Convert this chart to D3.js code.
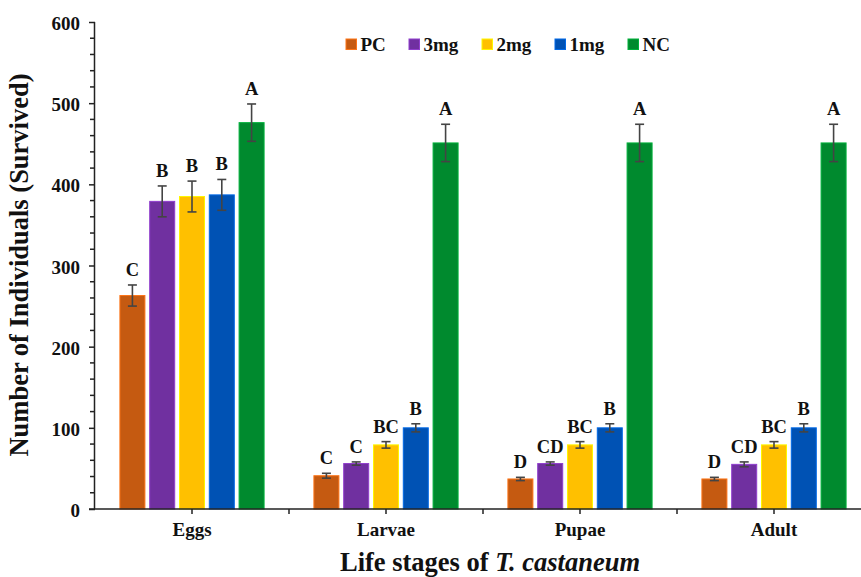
<!DOCTYPE html>
<html>
<head>
<meta charset="utf-8">
<script src="https://cdn.jsdelivr.net/npm/d3@7"></script>
<style>
  html, body { margin: 0; padding: 0; background: #fff; }
  svg { display: block; }
  text { font-family: "Liberation Serif", "Times New Roman", serif; font-weight: bold; fill: #111; }
</style>
</head>
<body>
<svg id="chart" width="861" height="577"></svg>
<script>
// ---- Data ----
const stages = ["Eggs", "Larvae", "Pupae", "Adult"];
const series = ["PC", "3mg", "2mg", "1mg", "NC"];
const colors = ["#C55A11", "#7030A0", "#FFC000", "#0052B4", "#008A2E"];
const valuesPC   = [263, 41, 37, 37];
const values3mg  = [379, 56, 56, 55];
const values2mg  = [385, 79, 79, 79];
const values1mg  = [387, 100, 100, 100];
const valuesNC   = [476, 451, 451, 451];
const errPC  = [13, 3, 2, 2];
const err3mg = [19, 2, 2, 3];
const err2mg = [19, 4, 4, 4];
const err1mg = [19, 5, 5, 5];
const errNC  = [23, 23, 23, 23];
const lettersPC  = ["C", "C", "D", "D"];
const letters3mg = ["B", "C", "CD", "CD"];
const letters2mg = ["B", "BC", "BC", "BC"];
const letters1mg = ["B", "B", "B", "B"];
const lettersNC  = ["A", "A", "A", "A"];
const yTicks = [0, 100, 200, 300, 400, 500, 600];

const allValues = [valuesPC, values3mg, values2mg, values1mg, valuesNC];
const allErr = [errPC, err3mg, err2mg, err1mg, errNC];
const allLetters = [lettersPC, letters3mg, letters2mg, letters1mg, lettersNC];

const rows = [];
stages.forEach((st, i) => {
  series.forEach((s, j) => {
    rows.push({ stage: st, series: s, value: allValues[j][i], err: allErr[j][i], letter: allLetters[j][i], color: colors[j] });
  });
});

// ---- Layout ----
const svg = d3.select("#chart");
const mLeft = 95, mRight = 871, mTop = 22, mBottom = 509;

const x0 = d3.scaleBand().domain(stages).range([mLeft, mRight]).padding(0);
const x1 = d3.scaleBand().domain(series).range([0, x0.bandwidth()]).paddingInner(0.161).paddingOuter(0.836);
const y = d3.scaleLinear().domain([0, 600]).range([mBottom, mTop]);

// Bars
svg.append("g").selectAll("rect").data(rows).join("rect")
  .attr("x", d => x0(d.stage) + x1(d.series))
  .attr("y", d => y(d.value))
  .attr("width", x1.bandwidth())
  .attr("height", d => y(0) - y(d.value))
  .attr("fill", d => d.color)
  .attr("stroke", d => d3.color(d.color).brighter(0.7))
  .attr("stroke-width", 1);

// Error bars
const eb = svg.append("g").attr("stroke", "#444").attr("stroke-width", 1.6).attr("fill", "none");
rows.forEach(d => {
  const cx = x0(d.stage) + x1(d.series) + x1.bandwidth() / 2;
  const y1 = y(d.value + d.err), y2 = y(d.value - d.err);
  eb.append("line").attr("x1", cx).attr("x2", cx).attr("y1", y1).attr("y2", y2);
  eb.append("line").attr("x1", cx - 4.5).attr("x2", cx + 4.5).attr("y1", y1).attr("y2", y1);
  eb.append("line").attr("x1", cx - 4.5).attr("x2", cx + 4.5).attr("y1", y2).attr("y2", y2);
});

// Letters
svg.append("g").selectAll("text").data(rows).join("text")
  .attr("x", d => x0(d.stage) + x1(d.series) + x1.bandwidth() / 2)
  .attr("y", d => y(d.value + d.err) - 9)
  .attr("text-anchor", "middle")
  .attr("font-size", 18.5)
  .text(d => d.letter);

// Y axis
const yAxis = d3.axisLeft(y).tickValues(yTicks).tickSize(6).tickPadding(9).tickFormat(d3.format("d"));
const gy = svg.append("g").attr("transform", `translate(${mLeft},0)`).call(yAxis);
gy.select(".domain").attr("stroke", "#222").attr("stroke-width", 1.5).attr("d", `M-0.5,${mTop}V${mBottom}`);
gy.selectAll(".tick line").attr("stroke", "#222").attr("stroke-width", 1.5);
gy.selectAll(".tick text").attr("font-size", 19).attr("font-family", "Liberation Serif, Times New Roman, serif")
  .attr("font-weight", "bold").attr("fill", "#111").attr("dy", "0.4em");
// minor ticks
const minor = d3.range(0, 601, 20).filter(v => v % 100 !== 0);
gy.append("g").selectAll("line").data(minor).join("line")
  .attr("x1", -5).attr("x2", 0).attr("y1", d => y(d)).attr("y2", d => y(d))
  .attr("stroke", "#222").attr("stroke-width", 1.5);

// X axis
const gx = svg.append("g").attr("transform", `translate(0,${mBottom})`);
gx.append("line").attr("x1", mLeft - 6).attr("x2", mRight).attr("y1", 0).attr("y2", 0)
  .attr("stroke", "#222").attr("stroke-width", 1.5);
const xTickPos = [];
stages.forEach(s => { xTickPos.push(x0(s)); xTickPos.push(x0(s) + x0.bandwidth() / 2); });
gx.selectAll("line.xt").data(xTickPos.filter(p => p > mLeft)).join("line").attr("class", "xt")
  .attr("x1", d => d).attr("x2", d => d).attr("y1", 0).attr("y2", 5)
  .attr("stroke", "#222").attr("stroke-width", 1.5);
gx.selectAll("text").data(stages).join("text")
  .attr("x", d => x0(d) + x0.bandwidth() / 2)
  .attr("y", 27)
  .attr("text-anchor", "middle")
  .attr("font-size", 19)
  .text(d => d);

// Axis titles
svg.append("text")
  .attr("transform", "translate(28,265) rotate(-90)")
  .attr("text-anchor", "middle")
  .attr("font-size", 26.5)
  .text("Number of Individuals (Survived)");

const title = svg.append("text")
  .attr("x", 490).attr("y", 571)
  .attr("text-anchor", "middle")
  .attr("font-size", 26.5);
title.append("tspan").text("Life stages of ");
title.append("tspan").attr("font-style", "italic").text("T. castaneum");

// Legend
const legendX = [346, 409, 482, 555, 628];
const lg = svg.append("g");
series.forEach((s, j) => {
  lg.append("rect").attr("x", legendX[j]).attr("y", 39).attr("width", 10.5).attr("height", 10.5)
    .attr("fill", colors[j]).attr("stroke", d3.color(colors[j]).brighter(0.7)).attr("stroke-width", 1);
  lg.append("text").attr("x", legendX[j] + 14.5).attr("y", 50.5).attr("font-size", 19).text(s);
});
</script>
</body>
</html>
